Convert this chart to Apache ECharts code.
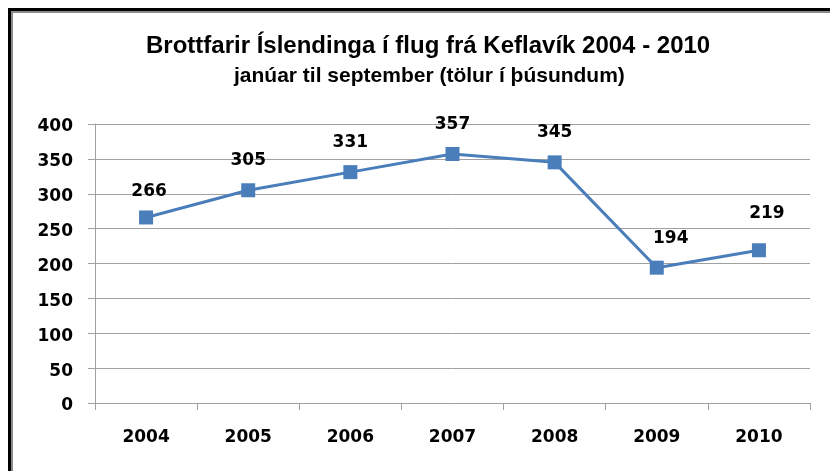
<!DOCTYPE html>
<html>
<head>
<meta charset="utf-8">
<script src="https://cdn.jsdelivr.net/npm/echarts@6/dist/echarts.min.js"></script>
<style>
  html, body { margin: 0; padding: 0; background: #fff; }
  #chart { width: 830px; height: 471px; }
</style>
</head>
<body>
<div id="chart"></div>
<script>
// Departures of Icelanders through Keflavík, January–September, in thousands
const years = ['2004', '2005', '2006', '2007', '2008', '2009', '2010'];
const departures = [266, 305, 331, 357, 345, 194, 219];
const yTicks = [0, 50, 100, 150, 200, 250, 300, 350, 400];

const titleText = 'Brottfarir Íslendinga í flug frá Keflavík 2004 - 2010';
const subtitleText = 'janúar til september (tölur í þúsundum)';

const TITLE_FONT = '"Liberation Sans", Arial, sans-serif';
const NUM_FONT = '"DejaVu Sans", sans-serif';

// hand-nudged value labels (pixel offsets from the default spot above each marker)
const labelNudge = { 0: [3, 4], 5: [14, 0], 6: [8, -7] };

const seriesData = departures.map((v, i) =>
  labelNudge[i] ? { value: v, label: { offset: labelNudge[i] } } : v
);

const chart = echarts.init(document.getElementById('chart'), null, { renderer: 'canvas' });

chart.setOption({
  animation: false,
  backgroundColor: '#ffffff',
  title: [
    {
      text: titleText,
      left: 141,
      top: 29,
      textStyle: { fontFamily: TITLE_FONT, fontWeight: 'bold', fontSize: 24, color: '#000' }
    },
    {
      text: subtitleText,
      left: 229,
      top: 61,
      textStyle: { fontFamily: TITLE_FONT, fontWeight: 'bold', fontSize: 21, color: '#000' }
    }
  ],
  grid: { left: 95, right: 20, top: 124, bottom: 68, containLabel: false },
  xAxis: {
    type: 'category',
    data: years,
    boundaryGap: true,
    axisLine: { lineStyle: { color: '#a0a0a0', width: 1 } },
    axisTick: { show: true, length: 7, lineStyle: { color: '#a0a0a0' } },
    axisLabel: { fontFamily: NUM_FONT, fontWeight: 'bold', fontSize: 17, color: '#000', margin: 26 }
  },
  yAxis: {
    type: 'value',
    min: yTicks[0],
    max: yTicks[yTicks.length - 1],
    interval: yTicks[1] - yTicks[0],
    axisLine: { show: true, lineStyle: { color: '#a0a0a0', width: 1 } },
    axisTick: { show: true, length: 7, lineStyle: { color: '#a0a0a0' } },
    splitLine: { show: true, lineStyle: { color: '#a0a0a0', width: 1 } },
    axisLabel: {
      margin: 22,
      formatter: v => '{n|' + v + '}',
      rich: {
        n: {
          fontFamily: NUM_FONT, fontWeight: 'bold', fontSize: 17, color: '#000',
          padding: [6, 0, 0, 0]
        }
      }
    }
  },
  series: [{
    type: 'line',
    data: seriesData,
    symbol: 'rect',
    symbolSize: 14,
    lineStyle: { color: '#4a7ebb', width: 3 },
    itemStyle: { color: '#4a7ebb' },
    label: {
      show: true,
      position: 'top',
      distance: 14,
      fontFamily: NUM_FONT,
      fontWeight: 'bold',
      fontSize: 17,
      color: '#000'
    }
  }],
  graphic: [
    // frame: heavy black edge with a thin grey inner edge on top and left
    { type: 'rect', shape: { x: 8, y: 8, width: 830, height: 3 }, style: { fill: '#000' }, silent: true },
    { type: 'rect', shape: { x: 8, y: 8, width: 3, height: 471 }, style: { fill: '#000' }, silent: true },
    { type: 'rect', shape: { x: 11, y: 11, width: 830, height: 2 }, style: { fill: '#8c8c8c' }, silent: true },
    { type: 'rect', shape: { x: 11, y: 11, width: 2, height: 471 }, style: { fill: '#8c8c8c' }, silent: true }
  ]
});
</script>
</body>
</html>
